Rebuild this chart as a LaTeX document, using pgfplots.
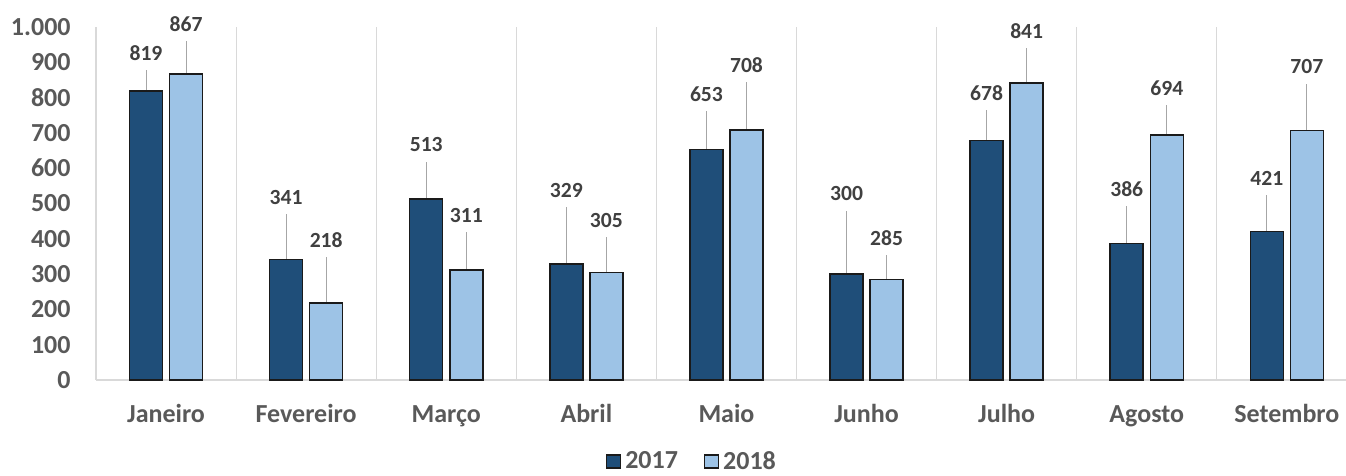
\documentclass[border=0pt]{standalone}
\usepackage{fontspec}
\setmainfont{Carlito}
\usepackage{pgfplots}
\usepackage{pgfplotstable}
\pgfplotsset{compat=1.18}

\definecolor{bar17}{HTML}{1F4E79}
\definecolor{bar18}{HTML}{9DC3E6}
\definecolor{edge}{HTML}{1A1A1A}
\definecolor{sep}{HTML}{D9D9D9}
\definecolor{leader}{HTML}{A6A6A6}
\definecolor{axtext}{HTML}{595959}
\definecolor{lbltext}{HTML}{404040}

% m: month index, a: 2017, b: 2018, la/lb: height of the value labels
\pgfplotstableread{
m a b la lb
0 819 867 926 1008
1 341 218 518 397
2 513 311 666 467
3 329 305 538 453
4 653 708 810 892
5 300 285 527 402
6 678 841 813 989
7 386 694 541 827
8 421 707 572 887
}\data

\begin{document}
\begin{tikzpicture}
\useasboundingbox (0,0) rectangle (673pt,238pt);
\begin{axis}[
  at={(48pt,48pt)}, anchor=south west,
  scale only axis, width=625pt, height=176.5pt,
  xmin=-0.5, xmax=8.422, ymin=0, ymax=1000,
  clip=false,
  axis x line*=bottom, axis y line*=left,
  x axis line style={draw=sep, line width=0.75pt, -},
  y axis line style={draw=none},
  major tick length=0pt, minor tick length=0pt,
  xtick={0,...,8},
  xticklabels={Janeiro,Fevereiro,Março,Abril,Maio,Junho,Julho,Agosto,Setembro},
  minor xtick={-0.5,0.5,...,7.5},
  xminorgrids, minor grid style={draw=sep, line width=0.6pt},
  ytick={0,100,...,1000},
  /pgf/number format/.cd, 1000 sep={.}, assume math mode=true, /pgfplots/.cd,
  ticklabel style={font=\fontsize{13}{15}\selectfont\bfseries, text=axtext, inner sep=0pt},
  yticklabel style={anchor=east, xshift=-12.5pt},
  xticklabel style={anchor=base, yshift=-21.5pt},
  legend style={at={(rel axis cs:0.4776,-0.2310)}, anchor=center, draw=none,
    font=\fontsize{13}{15}\selectfont\bfseries, text=axtext, inner sep=0pt,
    /tikz/every even column/.append style={column sep=11pt},
    legend cell align=left},
  legend columns=2,
  legend image code/.code={\draw[#1, line width=0.6pt] (0pt,-3.25pt) rectangle (7pt,3.25pt);},
]
% leader lines from each bar top to its label
\addplot[forget plot, draw=none, mark=none,
  error bars/.cd, y dir=plus, y explicit,
  error bar style={draw=leader, line width=0.5pt}, error mark=none]
  table[x expr=\thisrow{m}-0.143, y=a, y error plus expr=\thisrow{la}-48-\thisrow{a}]{\data};
\addplot[forget plot, draw=none, mark=none,
  error bars/.cd, y dir=plus, y explicit,
  error bar style={draw=leader, line width=0.5pt}, error mark=none]
  table[x expr=\thisrow{m}+0.143, y=b, y error plus expr=\thisrow{lb}-48-\thisrow{b}]{\data};

% bars
\addplot[ybar, bar width=0.2355, bar shift=-0.143, fill=bar17, draw=edge, line width=0.75pt]
  table[x=m, y=a]{\data};
\addlegendentry{2017}
\addplot[ybar, bar width=0.2355, bar shift=0.143, fill=bar18, draw=edge, line width=0.75pt]
  table[x=m, y=b]{\data};
\addlegendentry{2018}

% value labels
\addplot[forget plot, draw=none, mark=none, point meta=explicit,
  nodes near coords,
  nodes near coords style={anchor=center, inner sep=0pt, text=lbltext,
    font=\fontsize{10.8}{13}\selectfont\bfseries}]
  table[x expr=\thisrow{m}-0.143, y=la, meta=a]{\data};
\addplot[forget plot, draw=none, mark=none, point meta=explicit,
  nodes near coords,
  nodes near coords style={anchor=center, inner sep=0pt, text=lbltext,
    font=\fontsize{10.8}{13}\selectfont\bfseries}]
  table[x expr=\thisrow{m}+0.143, y=lb, meta=b]{\data};
\end{axis}
\end{tikzpicture}
\end{document}
